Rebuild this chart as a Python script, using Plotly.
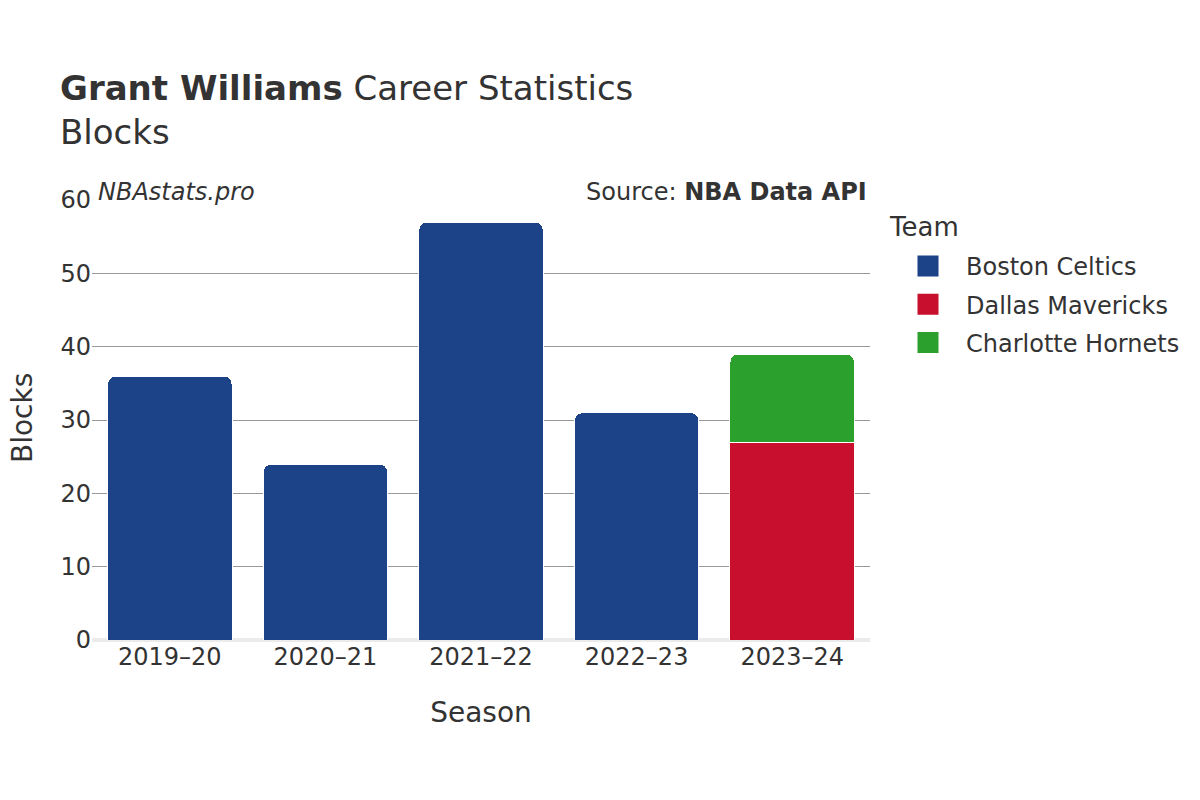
import plotly.graph_objects as go

seasons = ["2019–20", "2020–21", "2021–22", "2022–23", "2023–24"]
teams = ["Boston Celtics", "Dallas Mavericks", "Charlotte Hornets"]
boston_blocks = [36, 24, 57, 31, None]
dallas_blocks = [None, None, None, None, 27]
charlotte_blocks = [None, None, None, None, 12]
team_colors = ["#1C4288", "#C8102E", "#2CA02C"]
y_ticks = [0, 10, 20, 30, 40, 50, 60]

series = [boston_blocks, dallas_blocks, charlotte_blocks]

fig = go.Figure()
for name, vals, col in zip(teams, series, team_colors):
    fig.add_trace(go.Bar(
        x=seasons, y=vals, name=name, legendgroup=name, showlegend=False,
        marker=dict(color=col, line=dict(color="#ffffff", width=1)),
    ))
# legend entries (larger square swatches)
for name, col in zip(teams, team_colors):
    fig.add_trace(go.Scatter(
        x=[None], y=[None], name=name, legendgroup=name, mode="markers",
        marker=dict(symbol="square", size=16, color=col, line=dict(color=col, width=5)),
        hoverinfo="skip",
    ))

FONT = "DejaVu Sans"
PLOT_L, PLOT_R, PLOT_T, PLOT_B = 92, 870, 200, 640
fig.update_layout(
    width=1200, height=800,
    barmode="stack",
    barcornerradius=8,
    bargap=0.2,
    plot_bgcolor="#ffffff",
    paper_bgcolor="#ffffff",
    font=dict(family=FONT, color="#333333", size=24),
    margin=dict(l=84, r=338, t=192, b=168),
    title=dict(
        text="<b>Grant Williams</b> Career Statistics<br>Blocks",
        x=52 / 1200, xref="container", xanchor="left",
        y=1 - 92 / 800, yref="container", yanchor="middle",
        font=dict(family=FONT, size=34, color="#333333"),
    ),
    xaxis=dict(
        title=dict(text="Season", font=dict(size=28), standoff=32),
        tickfont=dict(size=24),
        showgrid=False,
        automargin=False,
        categoryorder="array", categoryarray=seasons,
    ),
    yaxis=dict(
        range=[0, 60],
        tickvals=y_ticks,
        tickfont=dict(size=24),
        showgrid=True, gridcolor="#999999", gridwidth=1,
        zeroline=True, zerolinecolor="#ebebeb", zerolinewidth=4,
        automargin=False,
    ),
    legend=dict(
        font=dict(size=24),
        traceorder="grouped",
        tracegroupgap=4,
        itemwidth=66,
        x=(890 - PLOT_L) / (PLOT_R - PLOT_L), xanchor="left",
        y=(PLOT_B - 244) / (PLOT_B - PLOT_T), yanchor="top",
    ),
    annotations=[
        dict(text="Blocks", textangle=-90,
             x=(22 - PLOT_L) / (PLOT_R - PLOT_L), y=(PLOT_B - 418) / (PLOT_B - PLOT_T),
             xref="paper", yref="paper", xanchor="center", yanchor="middle",
             showarrow=False, borderpad=0, font=dict(size=28, color="#333333")),
        dict(text="Team", x=(887 - PLOT_L) / (PLOT_R - PLOT_L),
             y=(PLOT_B - 227) / (PLOT_B - PLOT_T), xref="paper", yref="paper",
             xanchor="left", yanchor="middle", showarrow=False,
             font=dict(size=26, color="#333333")),
        dict(text="<i>NBAstats.pro</i>", x=0, y=1, xref="paper", yref="paper",
             xanchor="left", yanchor="bottom", showarrow=False, xshift=4, yshift=-8,
             font=dict(size=24, color="#333333")),
        dict(text="Source: <b>NBA Data API</b>", x=1, y=1, xref="paper", yref="paper",
             xanchor="right", yanchor="bottom", showarrow=False, xshift=-1, yshift=-8,
             font=dict(size=24, color="#333333")),
    ],
)

fig.write_html("out.html")
